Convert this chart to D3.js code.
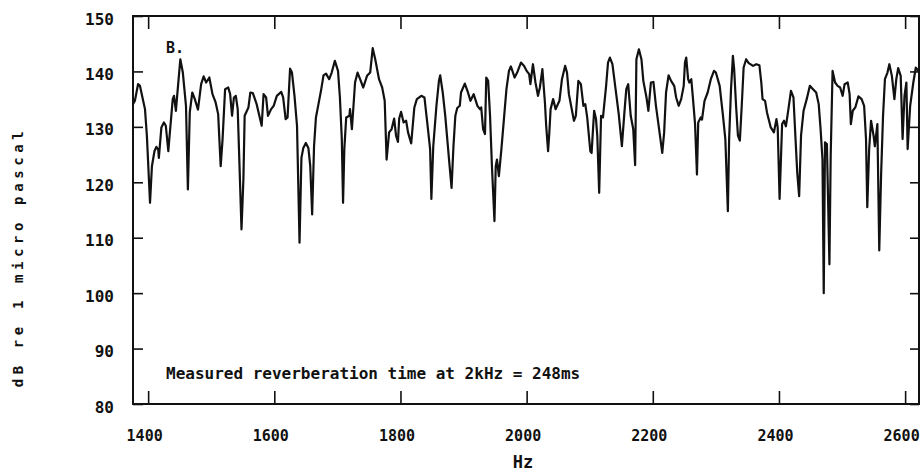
<!DOCTYPE html>
<html>
<head>
<meta charset="utf-8">
<title>Room response B</title>
<script src="https://d3js.org/d3.v7.min.js"></script>
<style>
  body { margin: 0; background: #fff; }
  svg { display: block; }
  .tick text { font-family: "DejaVu Sans Mono", monospace; font-weight: bold; font-size: 15px; fill: #111; }
  .domain { display: none; }
  .tick line { stroke: #111; stroke-width: 1.6; }
</style>
</head>
<body>
<svg id="chart" width="921" height="475"></svg>
<script>
// frequency (Hz) and sound pressure level (dB re 1 µPa) of the measured response
const freqHz = [
  1376, 1379, 1384, 1387, 1391, 1395, 1398, 1403, 1406, 1410, 1413, 1416, 1417, 1421, 1425, 1428,
  1432, 1434, 1439, 1441, 1444, 1446, 1451, 1455, 1460, 1463, 1466, 1470, 1474, 1479, 1484, 1488,
  1492, 1497, 1502, 1507, 1511, 1515, 1518, 1522, 1527, 1530, 1533, 1536, 1539, 1542, 1544, 1548,
  1551, 1553, 1559, 1562, 1566, 1572, 1580, 1583, 1587, 1590, 1595, 1599, 1604, 1611, 1614, 1618,
  1621, 1625, 1628, 1632, 1636, 1640, 1643, 1646, 1650, 1654, 1657, 1660, 1663, 1666, 1670, 1674,
  1678, 1682, 1687, 1691, 1696, 1701, 1704, 1707, 1709, 1711, 1714, 1719, 1720, 1723, 1725, 1728,
  1732, 1736, 1741, 1747, 1752, 1756, 1760, 1766, 1771, 1775, 1778, 1782, 1786, 1790, 1793, 1796,
  1798, 1801, 1805, 1809, 1812, 1817, 1822, 1826, 1833, 1838, 1843, 1847, 1849, 1852, 1857, 1861,
  1863, 1867, 1871, 1877, 1881, 1884, 1887, 1890, 1894, 1896, 1902, 1907, 1911, 1916, 1922, 1926,
  1928, 1931, 1934, 1936, 1939, 1942, 1945, 1949, 1951, 1953, 1956, 1960, 1964, 1968, 1972, 1975,
  1981, 1985, 1991, 1996, 2000, 2004, 2006, 2010, 2014, 2018, 2021, 2025, 2029, 2031, 2034, 2036,
  2038, 2042, 2046, 2052, 2056, 2061, 2064, 2067, 2071, 2075, 2078, 2082, 2086, 2090, 2093, 2096,
  2101, 2103, 2107, 2110, 2112, 2115, 2118, 2121, 2126, 2129, 2132, 2136, 2141, 2146, 2151, 2155,
  2158, 2161, 2165, 2169, 2172, 2174, 2178, 2182, 2185, 2190, 2193, 2197, 2201, 2205, 2210, 2215,
  2218, 2221, 2225, 2229, 2234, 2237, 2241, 2245, 2249, 2251, 2253, 2256, 2258, 2261, 2264, 2267,
  2270, 2272, 2276, 2278, 2282, 2287, 2292, 2297, 2300, 2306, 2311, 2315, 2319, 2321, 2324, 2327,
  2329, 2332, 2335, 2338, 2341, 2344, 2348, 2352, 2359, 2364, 2369, 2372, 2374, 2378, 2381, 2387,
  2392, 2396, 2398, 2401, 2405, 2408, 2411, 2415, 2419, 2423, 2426, 2429, 2432, 2435, 2439, 2444,
  2449, 2454, 2459, 2463, 2466, 2469, 2471, 2473, 2476, 2480, 2482, 2485, 2489, 2493, 2497, 2501,
  2504, 2509, 2512, 2514, 2517, 2521, 2526, 2531, 2535, 2538, 2540, 2543, 2546, 2550, 2552, 2556,
  2559, 2562, 2565, 2568, 2572, 2575, 2579, 2583, 2586, 2589, 2593, 2596, 2599, 2602, 2604, 2608,
  2613, 2617, 2621
];
const levelDb = [
  134.1, 134.7, 137.7, 137.4, 135.3, 133.2, 128.4, 116.3, 122.9, 125.6, 126.4, 125.9, 124.4, 129.9, 130.8, 130.2,
  125.6, 128.4, 135.0, 135.6, 132.9, 135.6, 142.2, 139.8, 133.8, 118.7, 132.6, 136.2, 135.0, 133.1, 137.7, 139.1,
  138.0, 138.9, 135.9, 134.4, 132.3, 122.9, 127.8, 136.8, 137.1, 135.9, 132.0, 135.3, 135.6, 133.2, 126.0, 111.5,
  120.5, 132.0, 133.5, 136.2, 136.1, 134.1, 130.2, 135.9, 135.3, 132.0, 133.2, 133.8, 135.6, 136.3, 135.3, 131.4,
  131.7, 140.5, 139.8, 135.6, 130.2, 109.1, 124.4, 126.2, 127.1, 126.2, 122.9, 114.2, 126.5, 131.7, 134.1, 136.5,
  139.3, 139.6, 138.6, 139.8, 141.9, 140.1, 135.3, 127.8, 116.3, 126.0, 131.7, 132.0, 133.2, 129.6, 132.9, 138.0,
  139.8, 138.6, 137.1, 139.2, 139.8, 144.2, 142.2, 138.6, 137.1, 134.7, 124.1, 129.0, 129.6, 131.5, 128.4, 127.3,
  131.5, 132.7, 130.8, 131.1, 129.0, 127.0, 133.5, 135.0, 135.6, 135.3, 130.2, 126.0, 117.0, 126.5, 133.8, 138.3,
  139.3, 136.2, 132.0, 124.1, 119.0, 126.5, 132.0, 133.4, 133.8, 136.2, 137.8, 136.2, 134.7, 135.9, 133.8, 133.2,
  133.5, 129.6, 128.7, 138.9, 138.3, 132.0, 122.9, 113.0, 122.9, 124.1, 121.1, 126.0, 131.4, 136.8, 140.1, 140.9,
  138.9, 139.8, 141.6, 141.0, 140.1, 139.5, 137.7, 141.3, 138.0, 135.6, 137.1, 140.4, 134.4, 130.2, 125.6, 129.0,
  133.2, 135.0, 133.2, 134.7, 138.6, 141.0, 139.8, 135.9, 133.5, 131.1, 132.0, 138.3, 137.7, 133.8, 134.1, 131.7,
  125.6, 125.3, 132.9, 131.4, 128.4, 118.1, 132.0, 131.7, 137.4, 141.6, 142.5, 141.3, 136.8, 132.3, 126.5, 132.6,
  136.8, 137.7, 132.0, 129.6, 123.1, 142.2, 144.0, 142.2, 138.3, 135.3, 132.9, 138.0, 138.1, 133.8, 129.6, 125.3,
  129.0, 136.2, 139.3, 138.3, 137.4, 135.3, 133.8, 135.0, 137.4, 141.6, 142.5, 138.6, 138.0, 138.6, 134.7, 130.5,
  121.4, 130.8, 131.7, 131.3, 134.7, 136.2, 138.6, 140.1, 139.8, 137.4, 132.3, 127.8, 114.8, 127.8, 136.8, 142.8,
  140.4, 133.8, 128.4, 127.5, 133.8, 140.7, 142.2, 141.5, 141.0, 141.3, 141.1, 138.0, 135.0, 134.7, 132.6, 129.9,
  129.0, 131.4, 129.9, 117.0, 130.5, 131.1, 130.1, 133.2, 136.5, 135.3, 128.4, 121.7, 117.5, 128.4, 132.9, 135.0,
  137.4, 136.8, 136.2, 134.1, 129.6, 124.1, 100.0, 127.2, 126.9, 105.2, 124.7, 140.1, 138.0, 137.4, 137.1, 135.6,
  137.7, 138.0, 135.9, 130.5, 132.9, 133.5, 135.5, 135.0, 133.8, 127.8, 115.5, 126.0, 131.1, 128.4, 126.5, 130.5,
  107.7, 121.7, 132.0, 138.6, 139.8, 141.3, 139.2, 135.0, 138.6, 140.6, 139.2, 127.8, 135.6, 138.0, 126.0, 133.8,
  138.0, 140.7, 140.1
];

const xTicks = [1400, 1600, 1800, 2000, 2200, 2400, 2600];
const yTicks = [80, 90, 100, 110, 120, 130, 140, 150];

const margin = { top: 16, right: 2, bottom: 71, left: 133 };
const W = 921, H = 475;
const width = W - margin.left - margin.right;
const height = H - margin.top - margin.bottom;

const svg = d3.select('#chart');
const g = svg.append('g').attr('transform', `translate(${margin.left},${margin.top})`);

const x = d3.scaleLinear().domain([1376, 2622]).range([0, width]);
const y = d3.scaleLinear().domain([80, 150]).range([height, 0]);
const fmt = d3.format('d');

// axes with ticks pointing into the plot
g.append('g')
  .attr('transform', `translate(0,${height})`)
  .call(d3.axisBottom(x).tickValues(xTicks).tickFormat(fmt).tickSizeInner(-13).tickSizeOuter(0).tickPadding(26))
  .selectAll('text').attr('dx', -4);

g.append('g')
  .call(d3.axisTop(x).tickValues(xTicks).tickSizeInner(-13).tickSizeOuter(0).tickFormat(''));

g.append('g')
  .call(d3.axisLeft(y).tickValues(yTicks).tickFormat(fmt).tickSizeInner(-10).tickSizeOuter(0).tickPadding(19))
  .selectAll('text').attr('dy', '0.5em').style('font-size', '16px');

g.append('g')
  .attr('transform', `translate(${width},0)`)
  .call(d3.axisRight(y).tickValues(yTicks).tickSizeInner(-9).tickSizeOuter(0).tickFormat(''));

// frame
g.append('rect')
  .attr('width', width).attr('height', height)
  .attr('fill', 'none').attr('stroke', '#111').attr('stroke-width', 2);

// response curve
const pts = freqHz.map((f, i) => [f, levelDb[i]]);
g.append('path')
  .datum(pts)
  .attr('fill', 'none')
  .attr('stroke', '#111')
  .attr('stroke-width', 2.2)
  .attr('stroke-linejoin', 'round')
  .attr('d', d3.line().x(d => x(d[0])).y(d => y(d[1])));

// labels
const mono = '"DejaVu Sans Mono", monospace';

g.append('text')
  .attr('x', 33).attr('y', 37)
  .style('font-family', mono).style('font-weight', 'bold').style('font-size', '15px')
  .attr('fill', '#111')
  .text('B.');

g.append('text')
  .attr('x', 33).attr('y', 363)
  .style('font-family', mono).style('font-weight', 'bold').style('font-size', '16px')
  .attr('fill', '#111')
  .text('Measured reverberation time at 2kHz = 248ms');

svg.append('text')
  .attr('x', 523).attr('y', 468)
  .attr('text-anchor', 'middle')
  .style('font-family', mono).style('font-weight', 'bold').style('font-size', '17px')
  .attr('fill', '#111')
  .text('Hz');

svg.append('text')
  .attr('transform', 'translate(23,257) rotate(-90)')
  .attr('text-anchor', 'middle')
  .style('font-family', mono).style('font-weight', 'bold').style('font-size', '14px').style('letter-spacing', '4.6px')
  .attr('fill', '#111')
  .text('dB re 1 micro pascal');
</script>
</body>
</html>
